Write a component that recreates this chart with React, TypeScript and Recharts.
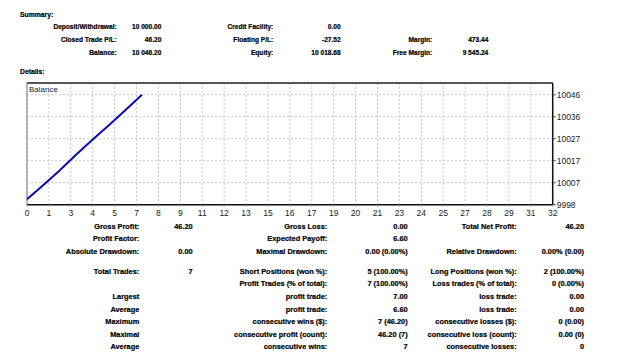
import { CartesianGrid, Line, LineChart, ReferenceLine, XAxis, YAxis } from "recharts";

// balance after each closed trade
const tradeNo = [0, 1, 2, 3, 4, 5, 6, 7];
const balance = [10000, 10006.3, 10012.8, 10019.8, 10026.4, 10032.8, 10039.5, 10046.2];

const xTickLabels = ["0", "1", "3", "4", "5", "7", "8", "9", "11", "12", "13", "15", "16", "17", "19", "20", "21", "23", "24", "25", "27", "28", "29", "31", "32"];
const xMax = 32;
const yTickValues = [9997.6, 10007.32, 10017.04, 10026.76, 10036.48, 10046.2];
const yTickLabels = ["9998", "10007", "10017", "10027", "10036", "10046"];
const yTop = 10051.4;

const summaryRows = [
  ["Deposit/Withdrawal:", "10 000.00", "Credit Facility:", "0.00", "", ""],
  ["Closed Trade P/L:", "46.20", "Floating P/L:", "-27.52", "Margin:", "473.44"],
  ["Balance:", "10 046.20", "Equity:", "10 018.68", "Free Margin:", "9 545.24"],
];

const detailRows = [
  ["Gross Profit:", "46.20", "Gross Loss:", "0.00", "Total Net Profit:", "46.20"],
  ["Profit Factor:", "", "Expected Payoff:", "6.60", "", ""],
  ["Absolute Drawdown:", "0.00", "Maximal Drawdown:", "0.00 (0.00%)", "Relative Drawdown:", "0.00% (0.00)"],
  ["Total Trades:", "7", "Short Positions (won %):", "5 (100.00%)", "Long Positions (won %):", "2 (100.00%)"],
  ["", "", "Profit Trades (% of total):", "7 (100.00%)", "Loss trades (% of total):", "0 (0.00%)"],
  ["Largest", "", "profit trade:", "7.00", "loss trade:", "0.00"],
  ["Average", "", "profit trade:", "6.60", "loss trade:", "0.00"],
  ["Maximum", "", "consecutive wins ($):", "7 (46.20)", "consecutive losses ($):", "0 (0.00)"],
  ["Maximal", "", "consecutive profit (count):", "46.20 (7)", "consecutive loss (count):", "0.00 (0)"],
  ["Average", "", "consecutive wins:", "7", "consecutive losses:", "0"],
];

const data = tradeNo.map((n, i) => ({ n, balance: balance[i] }));
const xTicks = xTickLabels.map((_, i) => (i * xMax) / (xTickLabels.length - 1));

const summaryCols = [116.7, 161.3, 273.3, 340.7, 432.3, 488.3];
const summaryY = [27, 40.3, 52.7];
const detailCols = [139.3, 192.7, 327.3, 407.7, 516.7, 584];
const detailY = [227.3, 239.3, 252, 271.7, 284.3, 297, 309.7, 322.3, 334.7, 347];

const boldText = { fontWeight: "bold" as const, WebkitTextStroke: "0.2px #000" };

function Cell({ text, right, y, size }: { text: string; right: number; y: number; size: number }) {
  if (!text) return null;
  return (
    <div
      style={{
        position: "absolute",
        left: right - 200,
        width: 200,
        top: y - 5,
        height: 10,
        lineHeight: "10px",
        textAlign: "right",
        fontSize: size,
        whiteSpace: "nowrap",
        ...boldText,
      }}
    >
      {text}
    </div>
  );
}

export default function App() {
  const font = "'Liberation Sans', Arial, sans-serif";
  return (
    <div style={{ position: "absolute", left: 0, top: 0, width: 625, height: 353, background: "#fff", fontFamily: font, color: "#000" }}>
      <div style={{ position: "absolute", left: 20, top: 9.7, lineHeight: "10px", fontSize: 6.8, ...boldText }}>Summary:</div>
      {summaryRows.map((row, r) =>
        row.map((t, c) => <Cell key={`s${r}-${c}`} text={t} right={summaryCols[c]} y={summaryY[r]} size={6.6} />)
      )}
      <div style={{ position: "absolute", left: 20, top: 67.3, lineHeight: "10px", fontSize: 6.8, ...boldText }}>Details:</div>

      <div style={{ position: "absolute", left: 0, top: 0 }}>
        <LineChart width={625} height={230} data={data} margin={{ top: 83, left: 27, right: 32.3, bottom: 5.3 }}>
          <CartesianGrid stroke="#c8c8c8" strokeDasharray="2 2" />
          <XAxis
            dataKey="n"
            type="number"
            domain={[0, xMax]}
            ticks={xTicks}
            interval={0}
            tickFormatter={(_, i) => xTickLabels[i]}
            tick={{ fill: "#222", fontSize: 8.5, fontFamily: font }}
            tickSize={2}
            tickMargin={3}
            height={20}
            axisLine={{ stroke: "#111", strokeWidth: 1.5 }}
            tickLine={{ stroke: "#999" }}
          />
          <YAxis
            orientation="right"
            type="number"
            domain={[yTickValues[0], yTop]}
            ticks={yTickValues}
            interval={0}
            tickFormatter={(_, i) => yTickLabels[i]}
            tick={{ fill: "#222", fontSize: 8.5, fontFamily: font, textAnchor: "start" }}
            tickSize={3}
            tickMargin={1}
            width={40}
            axisLine={{ stroke: "#111", strokeWidth: 1.5 }}
            tickLine={{ stroke: "#444" }}
          />
          <ReferenceLine y={yTop} stroke="#222" strokeWidth={1.5} />
          <ReferenceLine x={0} stroke="#8a8a8a" strokeWidth={1.2} />
          <Line dataKey="balance" stroke="#0a0ab0" strokeWidth={2} dot={false} type="linear" isAnimationActive={false} />
        </LineChart>
      </div>
      <div style={{ position: "absolute", left: 29, top: 85, lineHeight: "10px", fontSize: 8, color: "#222" }}>Balance</div>

      {detailRows.map((row, r) =>
        row.map((t, c) => <Cell key={`d${r}-${c}`} text={t} right={detailCols[c]} y={detailY[r]} size={7.4} />)
      )}
    </div>
  );
}
